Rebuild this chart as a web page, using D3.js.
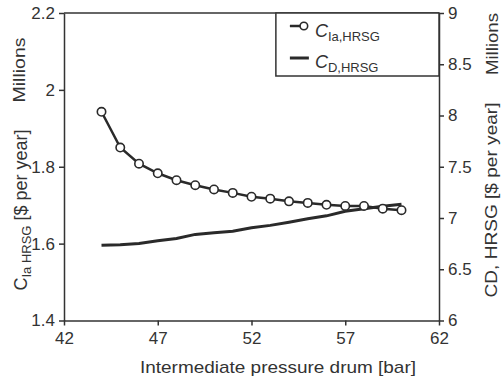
<!DOCTYPE html>
<html>
<head>
<meta charset="utf-8">
<script src="https://cdn.jsdelivr.net/npm/d3@7"></script>
<style>
  body { margin: 0; background: #fff; }
  svg text { font-family: "Liberation Sans", Arial, sans-serif; fill: #333; }
  .axis path, .axis line { stroke: #333; stroke-width: 1.5; }
  .axis text { font-size: 17px; fill: #333; }
</style>
</head>
<body>
<figure id="chart" style="margin:0"></figure>
<script>
// pressure values, same for both series
const pressure = [44, 45, 46, 47, 48, 49, 50, 51, 52, 53, 54, 55, 56, 57, 58, 59, 60];
// annual investment cost, millions $ (left axis)
const costIa = [1.943, 1.850, 1.808, 1.783, 1.765, 1.752, 1.741, 1.732, 1.722, 1.717, 1.710, 1.706, 1.701, 1.698, 1.698, 1.691, 1.687];
// CD cost, millions $ (right axis)
const costD = [6.733, 6.738, 6.752, 6.777, 6.801, 6.840, 6.855, 6.870, 6.904, 6.928, 6.958, 6.992, 7.021, 7.065, 7.090, 7.114, 7.134];

const xTicks = [42, 47, 52, 57, 62];
const leftTicks = [1.4, 1.6, 1.8, 2, 2.2];
const rightTicks = [6, 6.5, 7, 7.5, 8, 8.5, 9];

let dimensions = {
    width: 501,
    height: 380,
    margin: { top: 13, right: 62, bottom: 59.5, left: 64 }
};
dimensions.boundedWidth = dimensions.width - dimensions.margin.left - dimensions.margin.right;
dimensions.boundedHeight = dimensions.height - dimensions.margin.top - dimensions.margin.bottom;

const root = d3.select("figure#chart")
    .append("svg")
    .attr("width", dimensions.width)
    .attr("height", dimensions.height);

const svg = root.append("g")
    .attr("transform", `translate(${dimensions.margin.left},${dimensions.margin.top})`);

const xScale = d3.scaleLinear().domain([42, 62]).range([0, dimensions.boundedWidth]);
const yLeft = d3.scaleLinear().domain([1.4, 2.2]).range([dimensions.boundedHeight, 0]);
const yRight = d3.scaleLinear().domain([6, 9]).range([dimensions.boundedHeight, 0]);

// frame top line
svg.append("line")
    .attr("x1", 0).attr("x2", dimensions.boundedWidth)
    .attr("y1", 0).attr("y2", 0)
    .attr("stroke", "#333").attr("stroke-width", 1.5);

// axes
svg.append("g")
    .attr("class", "axis")
    .attr("transform", `translate(0,${dimensions.boundedHeight})`)
    .call(d3.axisBottom(xScale).tickValues(xTicks).tickSize(5).tickSizeOuter(0).tickPadding(6));

svg.append("g")
    .attr("class", "axis")
    .call(d3.axisLeft(yLeft).tickValues(leftTicks).tickFormat(d => d).tickSize(5).tickSizeOuter(0).tickPadding(4));

svg.append("g")
    .attr("class", "axis")
    .attr("transform", `translate(${dimensions.boundedWidth},0)`)
    .call(d3.axisRight(yRight).tickValues(rightTicks).tickFormat(d => d).tickSize(5).tickSizeOuter(0).tickPadding(4));

// series lines
const lineIa = d3.line().x((d, i) => xScale(pressure[i])).y(d => yLeft(d));
const lineD = d3.line().x((d, i) => xScale(pressure[i])).y(d => yRight(d));

svg.append("path")
    .datum(costD)
    .attr("d", lineD)
    .attr("fill", "none")
    .attr("stroke", "#2a2a2a")
    .attr("stroke-width", 3);

svg.append("path")
    .datum(costIa)
    .attr("d", lineIa)
    .attr("fill", "none")
    .attr("stroke", "#2a2a2a")
    .attr("stroke-width", 2.5);

svg.selectAll("circle.ia")
    .data(costIa)
    .enter()
    .append("circle")
    .attr("class", "ia")
    .attr("cx", (d, i) => xScale(pressure[i]))
    .attr("cy", d => yLeft(d))
    .attr("r", 4.2)
    .attr("fill", "#fff")
    .attr("stroke", "#2a2a2a")
    .attr("stroke-width", 1.6);

// legend
const legend = svg.append("g").attr("transform", `translate(${xScale(53.3)},0)`);
const legendW = dimensions.boundedWidth - xScale(53.3);
legend.append("rect")
    .attr("width", legendW).attr("height", 63)
    .attr("fill", "#fff").attr("stroke", "#333").attr("stroke-width", 1.5);

legend.append("line")
    .attr("x1", 14).attr("x2", 32).attr("y1", 13).attr("y2", 13)
    .attr("stroke", "#2a2a2a").attr("stroke-width", 2.5);
legend.append("circle")
    .attr("cx", 28).attr("cy", 13).attr("r", 3.8)
    .attr("fill", "#fff").attr("stroke", "#2a2a2a").attr("stroke-width", 1.6);
legend.append("line")
    .attr("x1", 14).attr("x2", 33).attr("y1", 45).attr("y2", 45)
    .attr("stroke", "#2a2a2a").attr("stroke-width", 3);

const t1 = legend.append("text").attr("x", 39).attr("y", 24).style("font-size", "18px");
t1.append("tspan").text("C").style("font-style", "italic");
t1.append("tspan").text("Ia,HRSG").attr("dy", 4).style("font-size", "13px");

const t2 = legend.append("text").attr("x", 39).attr("y", 55).style("font-size", "18px");
t2.append("tspan").text("C").style("font-style", "italic");
t2.append("tspan").text("D,HRSG").attr("dy", 4).style("font-size", "13px");

// axis titles
root.append("text")
    .attr("x", 278).attr("y", 373)
    .attr("text-anchor", "middle")
    .attr("textLength", 276).attr("lengthAdjust", "spacingAndGlyphs")
    .style("font-size", "17px")
    .text("Intermediate pressure drum [bar]");

root.append("text")
    .attr("transform", "translate(25,70) rotate(-90)")
    .attr("text-anchor", "middle")
    .attr("textLength", 65).attr("lengthAdjust", "spacingAndGlyphs")
    .style("font-size", "17px")
    .text("Millions");

const leftTitle = root.append("text")
    .attr("transform", "translate(27,210) rotate(-90)")
    .attr("text-anchor", "middle")
    .style("font-size", "18px");
leftTitle.append("tspan").text("C");
leftTitle.append("tspan").text("Ia HRSG").attr("dy", 4).style("font-size", "13px");
leftTitle.append("tspan").text(" [$ per year]").attr("dy", -4);

root.append("text")
    .attr("transform", "translate(498,44) rotate(-90)")
    .attr("text-anchor", "middle")
    .attr("textLength", 62).attr("lengthAdjust", "spacingAndGlyphs")
    .style("font-size", "17px")
    .text("Millions");

root.append("text")
    .attr("transform", "translate(497,200) rotate(-90)")
    .attr("text-anchor", "middle")
    .attr("textLength", 195).attr("lengthAdjust", "spacingAndGlyphs")
    .style("font-size", "17px")
    .text("CD, HRSG [$ per year]");
</script>
</body>
</html>
